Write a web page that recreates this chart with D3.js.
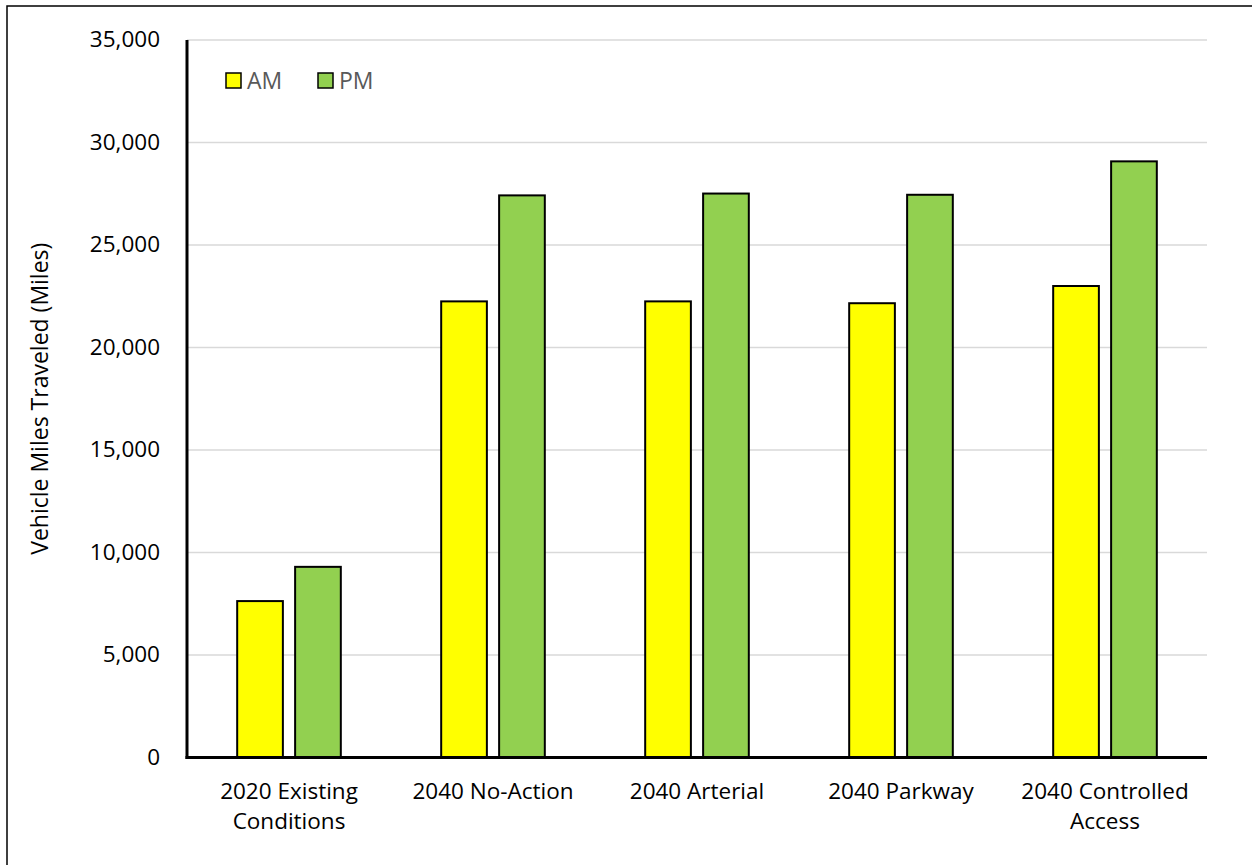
<!DOCTYPE html>
<html>
<head>
<meta charset="utf-8">
<script src="https://cdn.jsdelivr.net/npm/d3@7"></script>
<style>
  html, body { margin: 0; padding: 0; background: #fff; }
  svg { display: block; }
  text { font-family: "Open Sans", "Noto Sans", sans-serif; }
</style>
</head>
<body>
<svg id="chart" width="1252" height="865"></svg>
<script>
// Scenario labels (each may wrap onto two lines)
const categories = [
  ["2020 Existing", "Conditions"],
  ["2040 No-Action"],
  ["2040 Arterial"],
  ["2040 Parkway"],
  ["2040 Controlled", "Access"]
];
const seriesNames = ["AM", "PM"];
const amValues = [7630, 22250, 22250, 22160, 23000];
const pmValues = [9300, 27420, 27510, 27450, 29080];
const yTicks = [0, 5000, 10000, 15000, 20000, 25000, 30000, 35000];
const seriesColors = ["#FFFF00", "#92D050"];

const svg = d3.select("#chart");
const W = 1252, H = 865;
const plot = { left: 187, right: 1207, top: 40, bottom: 757.5 };

// outer frame
svg.append("rect")
  .attr("x", 7).attr("y", 6)
  .attr("width", W + 10).attr("height", H + 10)
  .attr("fill", "#fff").attr("stroke", "#000").attr("stroke-width", 1.5);

const keys = categories.map(c => c.join(" "));
const x = d3.scaleBand().domain(keys).range([plot.left, plot.right]).padding(0);
const y = d3.scaleLinear().domain([0, 35000]).range([plot.bottom, plot.top]);

// gridlines
svg.append("g")
  .selectAll("line")
  .data(yTicks.filter(t => t > 0))
  .join("line")
  .attr("x1", plot.left).attr("x2", plot.right)
  .attr("y1", d => y(d)).attr("y2", d => y(d))
  .attr("stroke", "#d9d9d9").attr("stroke-width", 1.5);

// y axis tick labels
const yAxis = d3.axisLeft(y)
  .tickValues(yTicks)
  .tickFormat(d3.format(","))
  .tickSize(0)
  .tickPadding(27);
const yg = svg.append("g").attr("transform", `translate(${plot.left},0)`).call(yAxis);
yg.select(".domain").remove();
yg.selectAll("text")
  .attr("font-family", "'Open Sans', sans-serif")
  .attr("font-size", 22.5)
  .attr("fill", "#000")
  .attr("dy", "0.3em");

// bars
const bw = x.bandwidth();
const barW = bw * 0.224;
const gap = bw * 0.06;
const rows = keys.map((k, i) => ({ key: k, values: [amValues[i], pmValues[i]] }));

const groups = svg.append("g").selectAll("g")
  .data(rows)
  .join("g")
  .attr("transform", d => `translate(${x(d.key) + bw / 2},0)`);

groups.selectAll("rect")
  .data(d => d.values.map((v, j) => ({ v, j })))
  .join("rect")
  .attr("x", d => d.j === 0 ? -gap / 2 - barW : gap / 2)
  .attr("y", d => y(d.v))
  .attr("width", barW)
  .attr("height", d => y(0) - y(d.v))
  .attr("fill", d => seriesColors[d.j])
  .attr("stroke", "#000")
  .attr("stroke-width", 2);

// axis lines
svg.append("line")
  .attr("x1", plot.left).attr("x2", plot.left)
  .attr("y1", plot.top).attr("y2", plot.bottom + 1.5)
  .attr("stroke", "#000").attr("stroke-width", 3);
svg.append("line")
  .attr("x1", plot.left - 1.5).attr("x2", plot.right)
  .attr("y1", plot.bottom).attr("y2", plot.bottom)
  .attr("stroke", "#000").attr("stroke-width", 3);

// category labels
const catG = svg.append("g");
categories.forEach((lines, i) => {
  const t = catG.append("text")
    .attr("x", x(keys[i]) + bw / 2)
    .attr("y", 799)
    .attr("text-anchor", "middle")
    .attr("font-size", 22.5)
    .attr("fill", "#000");
  lines.forEach((ln, k) => {
    t.append("tspan")
      .attr("x", x(keys[i]) + bw / 2)
      .attr("dy", k === 0 ? 0 : 30)
      .text(ln);
  });
});

// y axis title
svg.append("text")
  .attr("transform", `translate(48,${(plot.top + plot.bottom) / 2}) rotate(-90)`)
  .attr("text-anchor", "middle")
  .attr("font-size", 23)
  .attr("fill", "#000")
  .text("Vehicle Miles Traveled (Miles)");

// legend
const legend = svg.append("g");
const legendX = [226, 318];
seriesNames.forEach((name, i) => {
  legend.append("rect")
    .attr("x", legendX[i]).attr("y", 73)
    .attr("width", 15).attr("height", 15)
    .attr("fill", seriesColors[i])
    .attr("stroke", "#000").attr("stroke-width", 1.5);
  legend.append("text")
    .attr("x", legendX[i] + 21).attr("y", 89)
    .attr("font-size", 23)
    .attr("fill", "#595959")
    .text(name);
});
</script>
</body>
</html>
